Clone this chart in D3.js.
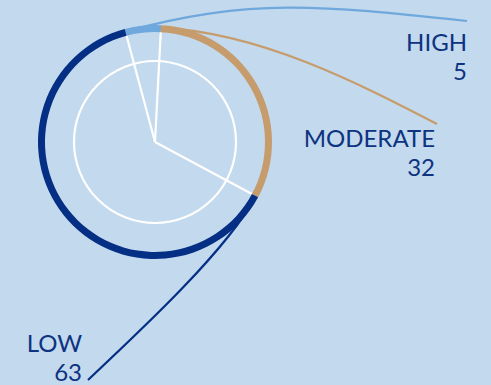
<!DOCTYPE html>
<meta charset="utf-8">
<head>
	<script type="text/javascript" src="https://cdn.jsdelivr.net/npm/d3@7"></script>
	<style>
		body { margin: 0; background: #c3d9ed; }
		svg { display: block; }
		text { font-family: Lato, "Open Sans", sans-serif; font-size: 24px; fill: #0d3381; }
	</style>
</head>
<body>
	<svg id="chart" width="491" height="385"></svg>
</body>
<script type="text/javascript">
	// risk levels and counts
	var categories = ["HIGH", "MODERATE", "LOW"];
	var values = [5, 32, 63];
	var colors = ["#6fa8dc", "#c69c6d", "#042f85"];

	var svg = d3.select('#chart');
	var cx = 155, cy = 142;
	var ringIn = 110, ringOut = 117, innerR = 81;

	var rad = Math.PI / 180;
	var start = -15 * rad;
	var pie = d3.pie().sort(null).startAngle(start).endAngle(start + 2 * Math.PI);
	var arcs = pie(values);

	var g = svg.append('g').attr('transform', 'translate(' + cx + ',' + cy + ')');

	// inner white circle
	g.append('circle').attr('r', innerR)
		.attr('fill', 'none').attr('stroke', 'white').attr('stroke-width', 2.2);

	// spokes at segment boundaries
	g.selectAll('line.spoke').data(arcs).enter().append('line')
		.attr('x1', 0).attr('y1', 0)
		.attr('x2', function(d){ return ringIn * Math.sin(d.startAngle); })
		.attr('y2', function(d){ return -ringIn * Math.cos(d.startAngle); })
		.attr('stroke', 'white').attr('stroke-width', 2.2);

	// leader lines: leave the ring tangentially at each segment's start
	var ends = [[467, 21], [437, 124], [88, 380]];
	var reach = [[130, 150], [100, 90], [60, 80]];
	g.selectAll('path.leader').data(arcs).enter().append('path')
		.attr('fill', 'none')
		.attr('stroke', function(d, i){ return colors[i]; })
		.attr('stroke-width', 2.2)
		.attr('d', function(d, i){
			var R = (ringIn + ringOut) / 2 + 1;
			var a = d.startAngle;
			var x0 = R * Math.sin(a), y0 = -R * Math.cos(a);
			var tx = Math.cos(a), ty = Math.sin(a);
			var x3 = ends[i][0] - cx, y3 = ends[i][1] - cy;
			var x1 = x0 + reach[i][0] * tx, y1 = y0 + reach[i][0] * ty;
			// second control point pulls back from the end towards the first
			var dx = x1 - x3, dy = y1 - y3, len = Math.sqrt(dx * dx + dy * dy);
			var x2 = x3 + reach[i][1] * dx / len, y2 = y3 + reach[i][1] * dy / len;
			return 'M' + x0 + ',' + y0 + 'C' + x1 + ',' + y1 + ' ' + x2 + ',' + y2 + ' ' + x3 + ',' + y3;
		});

	// outer ring
	var arc = d3.arc().innerRadius(ringIn).outerRadius(ringOut);
	g.selectAll('path.seg').data(arcs).enter().append('path')
		.attr('d', arc)
		.attr('fill', function(d, i){ return colors[i]; });

	// labels
	var labelPos = [[467, 51], [435, 147], [82, 352]];
	categories.forEach(function(c, i){
		var t = svg.append('text')
			.attr('text-anchor', 'end')
			.attr('x', labelPos[i][0]).attr('y', labelPos[i][1]);
		t.append('tspan').attr('x', labelPos[i][0]).text(c);
		t.append('tspan').attr('x', labelPos[i][0]).attr('dy', 29).text(values[i]);
	});
</script>
